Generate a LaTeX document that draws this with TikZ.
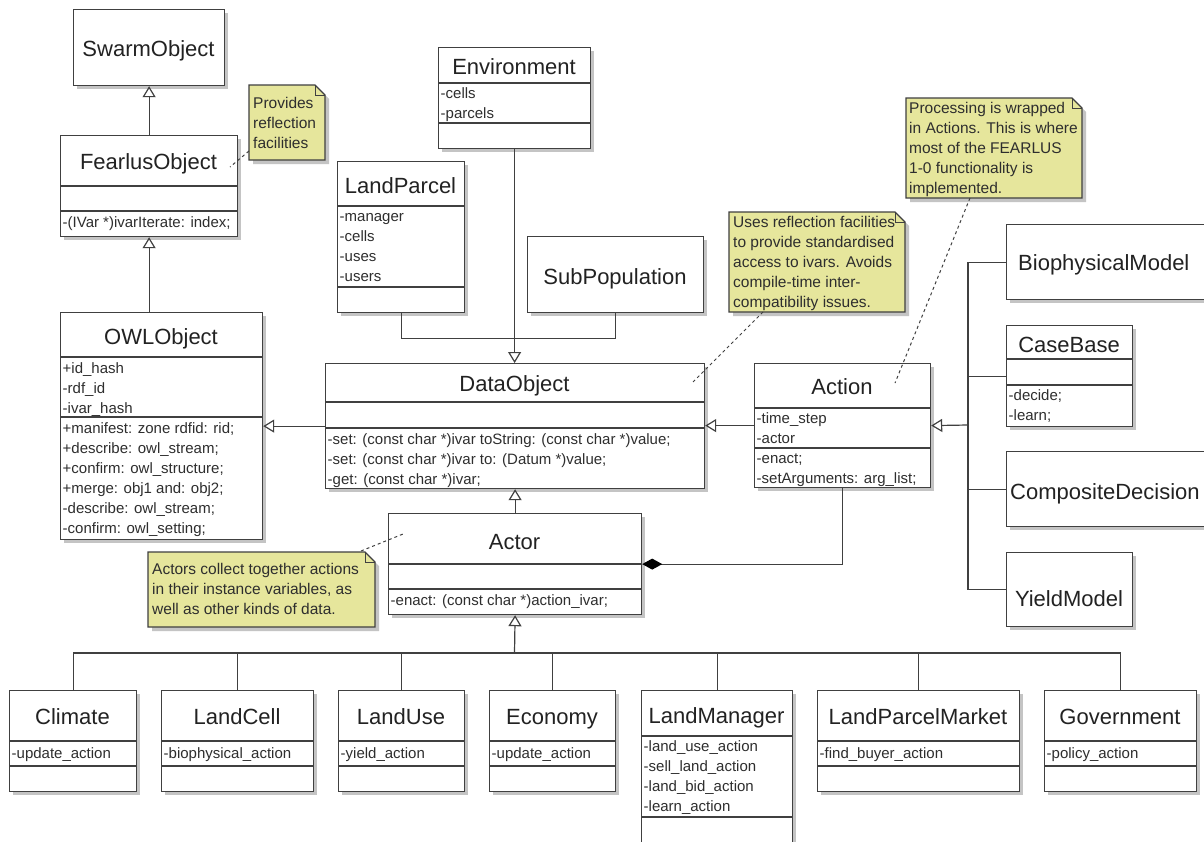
\documentclass[tikz,border=0pt]{standalone}
\usepackage{fontspec}
\setmainfont{Liberation Sans}
\usetikzlibrary{arrows.meta}
\definecolor{ln}{HTML}{404040}
\definecolor{tx}{HTML}{2E2E2E}
\definecolor{nmc}{HTML}{222222}
\definecolor{notefill}{HTML}{E6E69C}
\definecolor{shd}{HTML}{C4C4C4}
\tikzset{
 boxst/.style={draw=ln, line width=1.2pt, fill=white, inner sep=0pt, rectangle},
 nm/.style={font=\fontsize{22}{26}\selectfont, text=nmc, inner sep=0pt, text height=15.8pt, text depth=0pt},
 mb/.style={font=\fontsize{15}{20}\selectfont, text=tx, inner sep=0pt, anchor=base west},
 nt/.style={font=\fontsize{15.5}{20}\selectfont, text=tx, inner sep=0pt, anchor=base west},
 conn/.style={draw=ln, line width=1.2pt},
 gen/.style={conn, -{Triangle[open, length=11pt, width=13pt, line width=1.2pt]}},
 comp/.style={conn, -{Diamond[length=20pt, width=11pt, color=black, fill=black]}},
 dotl/.style={draw=ln, line width=1pt, dash pattern=on 3pt off 3pt},
 sepl/.style={draw=ln, line width=1.2pt},
}
% box: name, x1, y1, x2, y2
\newcommand\ubox[5]{%
 \fill[shd] ({#2+4},{#3+4}) rectangle ({#4+4},{#5+4});
 \node[boxst, anchor=north west, minimum width={#4-#2}, minimum height={#5-#3}] (#1) at (#2,#3) {};}
% separator: x1, x2, y
\newcommand\usep[3]{\draw[sepl] (#1,#3) -- (#2,#3);}
% note: name, x1, y1, x2, y2
\newcommand\unote[5]{%
 \fill[shd] ({#2+4},{#3+4}) -- ({#4+4-10},{#3+4}) -- ({#4+4},{#3+4+10}) -- ({#4+4},{#5+4}) -- ({#2+4},{#5+4}) -- cycle;
 \draw[draw=ln, line width=1.2pt, fill=notefill] (#2,#3) -- ({#4-10},#3) -- (#4,{#3+10}) -- (#4,#5) -- (#2,#5) -- cycle;
 \draw[draw=ln, line width=1pt] ({#4-10},#3) -- ({#4-10},{#3+10}) -- (#4,{#3+10});
 \node[inner sep=0pt, anchor=north west, minimum width={#4-#2}, minimum height={#5-#3}] (#1) at (#2,#3) {};}
\begin{document}
\begin{tikzpicture}[x=1pt,y=-1pt]
\useasboundingbox (0,0) rectangle (1204,841);
\clip (0,0) rectangle (1204,841);
\fill[white] (0,0) rectangle (1204,841);

% ---------- classes ----------
\ubox{swarm}{73}{9}{224}{85}
\node[nm] (swarm-n) at (148.5,48.5) {SwarmObject};

\ubox{fearlus}{60}{135}{237}{236}
\usep{60}{237}{186}\usep{60}{237}{211}
\node[nm] (fearlus-n) at (148.5,162) {FearlusObject};
\node[mb] (fearlus-m1) at (62.5,227.5) {-(IVar *)ivarIterate: index;};

\ubox{owl}{60}{312}{262}{539}
\usep{60}{262}{357}\usep{60}{262}{417}
\node[nm] (owl-n) at (161,336.5) {OWLObject};
\node[mb] (owl-a1) at (62.5,373.5) {+id\_hash};
\node[mb] (owl-a2) at (62.5,393.5) {-rdf\_id};
\node[mb] (owl-a3) at (62.5,413.5) {-ivar\_hash};
\node[mb] (owl-m1) at (62.5,433.5) {+manifest: zone rdfid: rid;};
\node[mb] (owl-m2) at (62.5,453.5) {+describe: owl\_stream;};
\node[mb] (owl-m3) at (62.5,473.5) {+confirm: owl\_structure;};
\node[mb] (owl-m4) at (62.5,493.5) {+merge: obj1 and: obj2;};
\node[mb] (owl-m5) at (62.5,513.5) {-describe: owl\_stream;};
\node[mb] (owl-m6) at (62.5,533.5) {-confirm: owl\_setting;};

\ubox{env}{438}{47}{590}{148}
\usep{438}{590}{83}\usep{438}{590}{123}
\node[nm] (env-n) at (514,66.5) {Environment};
\node[mb] (env-a1) at (440.5,98) {-cells};
\node[mb] (env-a2) at (440.5,118) {-parcels};

\ubox{lp}{337}{161}{464}{312}
\usep{337}{464}{206}\usep{337}{464}{287}
\node[nm] (lp-n) at (400.5,185.5) {LandParcel};
\node[mb] (lp-a1) at (339.5,221.5) {-manager};
\node[mb] (lp-a2) at (339.5,241.5) {-cells};
\node[mb] (lp-a3) at (339.5,261.5) {-uses};
\node[mb] (lp-a4) at (339.5,281.5) {-users};

\ubox{sp}{527}{236}{703}{312}
\node[nm] (sp-n) at (615,276.5) {SubPopulation};

\ubox{data}{325}{363}{704}{488}
\usep{325}{704}{402}\usep{325}{704}{428}
\node[nm] (data-n) at (514.5,384) {DataObject};
\node[mb] (data-m1) at (327.5,444) {-set: (const char *)ivar toString: (const char *)value;};
\node[mb] (data-m2) at (327.5,464) {-set: (const char *)ivar to: (Datum *)value;};
\node[mb] (data-m3) at (327.5,484) {-get: (const char *)ivar;};

\ubox{action}{754}{363}{930}{487}
\usep{754}{930}{408}\usep{754}{930}{448}
\node[nm] (action-n) at (842,386.5) {Action};
\node[mb] (action-a1) at (756.5,423.5) {-time\_step};
\node[mb] (action-a2) at (756.5,443.5) {-actor};
\node[mb] (action-m1) at (756.5,463.5) {-enact;};
\node[mb] (action-m2) at (756.5,483.5) {-setArguments: arg\_list;};

\ubox{bio}{1006}{224}{1210}{299}
\node[nm, anchor=west] (bio-n) at (1018,262.5) {BiophysicalModel};

\ubox{cb}{1006}{325}{1132}{426}
\usep{1006}{1132}{359}\usep{1006}{1132}{385}
\node[nm] (cb-n) at (1069,344.5) {CaseBase};
\node[mb] (cb-m1) at (1008.5,400.5) {-decide;};
\node[mb] (cb-m2) at (1008.5,420.5) {-learn;};

\ubox{cd}{1006}{451}{1210}{526}
\node[nm, anchor=west] (cd-n) at (1010,491.5) {CompositeDecision};

\ubox{yld}{1006}{552}{1132}{626}
\node[nm] (yld-n) at (1069,599) {YieldModel};

\ubox{actor}{388}{513}{641}{614}
\usep{388}{641}{564}\usep{388}{641}{589}
\node[nm] (actor-n) at (514.5,541.5) {Actor};
\node[mb] (actor-m1) at (390.5,605) {-enact: (const char *)action\_ivar;};

% bottom row
\ubox{clim}{9}{690}{136}{791}
\usep{9}{136}{741}\usep{9}{136}{766}
\node[nm] (clim-n) at (72.5,716.5) {Climate};
\node[mb] (clim-a1) at (11.5,758) {-update\_action};

\ubox{lc}{161}{690}{313}{791}
\usep{161}{313}{741}\usep{161}{313}{766}
\node[nm] (lc-n) at (237,716.5) {LandCell};
\node[mb] (lc-a1) at (163.5,758) {-biophysical\_action};

\ubox{lu}{338}{690}{464}{791}
\usep{338}{464}{741}\usep{338}{464}{766}
\node[nm] (lu-n) at (401,716.5) {LandUse};
\node[mb] (lu-a1) at (340.5,758) {-yield\_action};

\ubox{eco}{489}{690}{615}{791}
\usep{489}{615}{741}\usep{489}{615}{766}
\node[nm] (eco-n) at (552,716.5) {Economy};
\node[mb] (eco-a1) at (491.5,758) {-update\_action};

\ubox{lm}{641}{690}{792}{860}
\usep{641}{792}{736}\usep{641}{792}{817}
\node[nm] (lm-n) at (716.5,715.5) {LandManager};
\node[mb] (lm-a1) at (643.5,751.5) {-land\_use\_action};
\node[mb] (lm-a2) at (643.5,771.5) {-sell\_land\_action};
\node[mb] (lm-a3) at (643.5,791.5) {-land\_bid\_action};
\node[mb] (lm-a4) at (643.5,811.5) {-learn\_action};

\ubox{lpm}{817}{690}{1019}{791}
\usep{817}{1019}{741}\usep{817}{1019}{766}
\node[nm] (lpm-n) at (918,716.5) {LandParcelMarket};
\node[mb] (lpm-a1) at (819.5,758) {-find\_buyer\_action};

\ubox{gov}{1044}{690}{1196}{791}
\usep{1044}{1196}{741}\usep{1044}{1196}{766}
\node[nm] (gov-n) at (1120,716.5) {Government};
\node[mb] (gov-a1) at (1046.5,758) {-policy\_action};

% ---------- notes ----------
\unote{fnote}{249}{85}{325}{160}
\node[nt] (fnote-1) at (253,108) {Provides};
\node[nt] (fnote-2) at (253,128) {reflection};
\node[nt] (fnote-3) at (253,148) {facilities};

\unote{unote}{729}{212}{905}{312}
\node[nt] (unote-1) at (733,227) {Uses reflection facilities};
\node[nt] (unote-2) at (733,247) {to provide standardised};
\node[nt] (unote-3) at (733,267) {access to ivars. Avoids};
\node[nt] (unote-4) at (733,287) {compile-time inter-};
\node[nt] (unote-5) at (733,307) {compatibility issues.};

\unote{pnote}{906}{98}{1082}{198}
\node[nt] (pnote-1) at (909,113) {Processing is wrapped};
\node[nt] (pnote-2) at (909,133) {in Actions. This is where};
\node[nt] (pnote-3) at (909,153) {most of the FEARLUS};
\node[nt] (pnote-4) at (909,173) {1-0 functionality is};
\node[nt] (pnote-5) at (909,193) {implemented.};

\unote{anote}{148}{552}{375}{627}
\node[nt] (anote-1) at (152,574) {Actors collect together actions};
\node[nt] (anote-2) at (152,594) {in their instance variables, as};
\node[nt] (anote-3) at (152,614) {well as other kinds of data.};

% note links
\coordinate (fl1) at (249,151); \coordinate (fl2) at (230,167);
\draw[dotl] (fl1) -- (fl2);
\coordinate (ul1) at (763,312); \coordinate (ul2) at (693,382);
\draw[dotl] (ul1) -- (ul2);
\coordinate (pl1) at (970,198); \coordinate (pl2) at (895,383);
\draw[dotl] (pl1) -- (pl2);
\coordinate (al1) at (361,551); \coordinate (al2) at (403,534);
\draw[dotl] (al1) -- (al2);

% ---------- connectors ----------
\draw[gen] (fearlus.north) -- (swarm.south);
\draw[gen] (fearlus.south |- owl.north) -- (fearlus.south);
\draw[gen] (data.west) -- (data.west -| owl.east);
\draw[gen] (action.west) -- (action.west -| data.east);
\draw[conn] (lp.south) -- ++(0,25) -| (sp.south);
\draw[gen] (env.south) -- (env.south |- data.north);
\draw[gen] (actor.north) -- (actor.north |- data.south);
\draw[comp] (action.south) |- (actor.east);

\coordinate (rt) at (968,425);
\draw[conn] (bio.west) -| (yld.west -| rt) -- (yld.west);
\draw[conn] (cb.west) -- (cb.west -| rt);
\draw[conn] (cd.west) -- (cd.west -| rt);
\draw[gen] (rt) -- (action.east);

\coordinate (bt) at (514.5,653);
\draw[gen] (bt) -- (actor.south);
\draw[conn] (clim.north) |- (bt) -| (gov.north);
\draw[conn] (lc.north) -- (lc.north |- bt);
\draw[conn] (lu.north) -- (lu.north |- bt);
\draw[conn] (eco.north) -- (eco.north |- bt);
\draw[conn] (lm.north) -- (lm.north |- bt);
\draw[conn] (lpm.north) -- (lpm.north |- bt);
\end{tikzpicture}
\end{document}
